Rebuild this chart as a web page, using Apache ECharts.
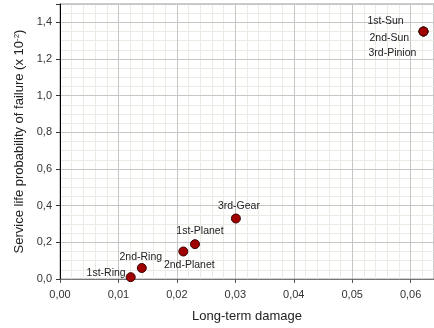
<!DOCTYPE html>
<html><head><meta charset="utf-8">
<script src="https://cdn.jsdelivr.net/npm/echarts@6/dist/echarts.min.js"></script>
<style>html,body{margin:0;padding:0;background:#fff}#c{width:434px;height:328px}</style>
</head><body><div id="c"></div>
<script>
// Data
const componentNames = ['1st-Ring','2nd-Ring','2nd-Planet','1st-Planet','3rd-Gear','1st-Sun','2nd-Sun','3rd-Pinion'];
const longTermDamage = [0.0121, 0.0140, 0.0211, 0.0231, 0.0301, 0.0622, 0.0622, 0.0622];
const failureProb = [0.01, 0.06, 0.15, 0.19, 0.33, 1.35, 1.35, 1.35];
const xTickValues = [0, 0.01, 0.02, 0.03, 0.04, 0.05, 0.06];
const yTickValues = [0, 0.2, 0.4, 0.6, 0.8, 1.0, 1.2, 1.4];

// label placement (style only)
const labelStyle = {
  '1st-Ring':   {align:'right',  offset:[-5,-4]},
  '2nd-Ring':   {align:'center', offset:[-1,-11]},
  '2nd-Planet': {align:'center', offset:[6,14]},
  '1st-Planet': {align:'center', offset:[5,-13]},
  '3rd-Gear':   {align:'center', offset:[3,-12]},
  '1st-Sun':    {align:'left',   offset:[-56,-10]},
  '2nd-Sun':    {align:'left',   offset:[-54,7]},
  '3rd-Pinion': {align:'left',   offset:[-55,22]}
};

const data = componentNames.map((n,i)=>({
  name:n, value:[longTermDamage[i], failureProb[i]],
  label:{show:true, position:'inside', formatter:n, align:labelStyle[n].align, verticalAlign:'middle', offset:labelStyle[n].offset}
}));

const font = 'Liberation Sans, Arial, sans-serif';
const chart = echarts.init(document.getElementById('c'), null, {renderer:'canvas'});
chart.setOption({
  animation:false,
  grid:{left:60, top:4, bottom:49, width:375, show:true, borderColor:'#999', borderWidth:1, backgroundColor:'transparent'},
  xAxis:[{
    type:'value', min:0, max:0.064, interval:0.01,
    name:'Long-term damage', nameLocation:'middle', nameGap:31,
    nameTextStyle:{fontFamily:font, fontSize:13, color:'#222'},
    axisLine:{show:true, lineStyle:{color:'#777', width:1}},
    axisTick:{show:true, length:4, lineStyle:{color:'#555'}},
    axisLabel:{fontFamily:font, fontSize:11, color:'#333', margin:10,
      customValues: xTickValues,
      formatter:v=>v.toFixed(2).replace('.',',')},
    splitLine:{show:true, lineStyle:{color:'#c6c6c2', width:1}},
    z:3
  },{
    type:'value', min:0, max:0.064, interval:0.002, position:'bottom',
    axisLine:{show:false}, axisTick:{show:false}, axisLabel:{show:false},
    splitLine:{show:true, lineStyle:{color:'#eceae2', width:1}},
    z:1
  }],
  yAxis:[{
    type:'value', min:0, max:1.5, interval:0.2,
    name:'{a|Service life probability of failure (x 10}{s|-2}{a|)}',
    nameLocation:'middle', nameGap:27,
    nameTextStyle:{fontFamily:font, fontSize:13, color:'#222',
      rich:{a:{fontFamily:font, fontSize:13, color:'#222'},
            s:{fontFamily:font, fontSize:8, color:'#222', verticalAlign:'top', padding:[0,0,6,0]}}},
    axisLine:{show:true, lineStyle:{color:'#000', width:1}},
    axisTick:{show:true, length:4, lineStyle:{color:'#333'}},
    axisLabel:{fontFamily:font, fontSize:11, color:'#333', margin:8,
      customValues: yTickValues,
      formatter:v=>v.toFixed(1).replace('.',',')},
    splitLine:{show:true, lineStyle:{color:'#c6c6c2', width:1}},
    z:3
  },{
    type:'value', min:0, max:1.5, interval:0.05, position:'left',
    axisLine:{show:false}, axisTick:{show:false}, axisLabel:{show:false},
    splitLine:{show:true, lineStyle:{color:'#eceae2', width:1}},
    z:1
  }],
  series:[{
    type:'scatter', xAxisIndex:0, yAxisIndex:0,
    symbol:'circle', symbolSize:9,
    itemStyle:{color:'#a00000', borderColor:'#3a0000', borderWidth:1, opacity:1},
    label:{fontFamily:font, fontSize:10.5, color:'#222'},
    data:data, z:5
  }]
});
</script></body></html>
